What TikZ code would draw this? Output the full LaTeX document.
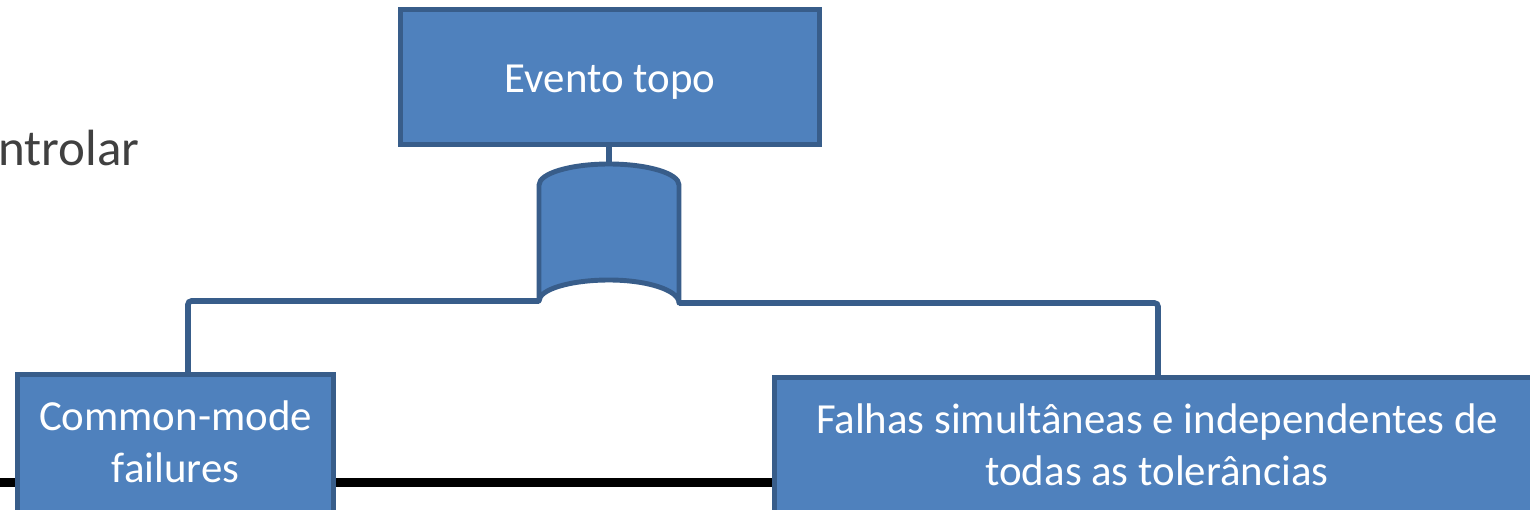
\documentclass[tikz,border=0pt]{standalone}
\usepackage{fontspec}
\setmainfont{Carlito}
\definecolor{boxfill}{HTML}{4F81BD}
\definecolor{boxline}{HTML}{385D8A}
\definecolor{darktext}{HTML}{404040}
\tikzset{
  box/.style={draw=boxline, fill=boxfill, line width=2.8pt, inner sep=0pt, rectangle},
  boxtext/.style={text=white, font=\fontsize{24.4}{29.3}\selectfont, align=center, anchor=base, inner sep=0pt},
  conn/.style={draw=boxline, line width=3.2pt, rounded corners=2pt},
  gateshape/.style={draw=boxline, fill=boxfill, line width=2.8pt, line join=round},
  blackline/.style={draw=black, line width=5.1pt}
}
\begin{document}
\begin{tikzpicture}[x=0.02cm,y=-0.02cm]
\useasboundingbox (0,0) rectangle (1530,510);
\clip (0,0) rectangle (1530,510);
\fill[white] (0,0) rectangle (1530,510);
% black line behind boxes
\coordinate (bl0) at (0,482.5);
\coordinate (bl1) at (776,482.5);
\draw[blackline] (bl0) -- (bl1);
% partial text
\node[anchor=base east, inner sep=0pt, text=darktext, font=\fontsize{29}{35}\selectfont] (ctrl) at (140,165) {ntrolar};
% boxes
\node[box, minimum width=419*0.02cm, minimum height=135*0.02cm] (top) at (610,77) {};
\node[boxtext] (toptext) at (610,92) {Evento topo};
\node[box, minimum width=316*0.02cm, minimum height=200*0.02cm] (left) at (175.5,474.5) {};
\node[boxtext] (lefttext) at (175.5,482) {Common-mode\\failures};
\node[box, minimum width=900*0.02cm, minimum height=200*0.02cm] (right) at (1224.5,477.5) {};
\node[boxtext] (righttext) at (1157,485) {Falhas simultâneas e independentes de\\todas as tolerâncias};
% gate
\coordinate (gtop) at (609,164);
\coordinate (gbl) at (539,301);
\coordinate (gbr) at (679,303);
\draw[conn] (top.south -| gtop) -- (gtop);
\draw[conn] (gbl) -| (188,0 |- left.north);
\draw[conn] (gbr) -| (1158,0 |- right.north);
\draw[gateshape] (gbr) arc[start angle=0, end angle=-90, x radius=70, y radius=23]
  arc[start angle=-90, end angle=-180, x radius=70, y radius=21]
  -- (539,185) arc[start angle=180, end angle=360, x radius=70, y radius=21] -- cycle;
\end{tikzpicture}
\end{document}
